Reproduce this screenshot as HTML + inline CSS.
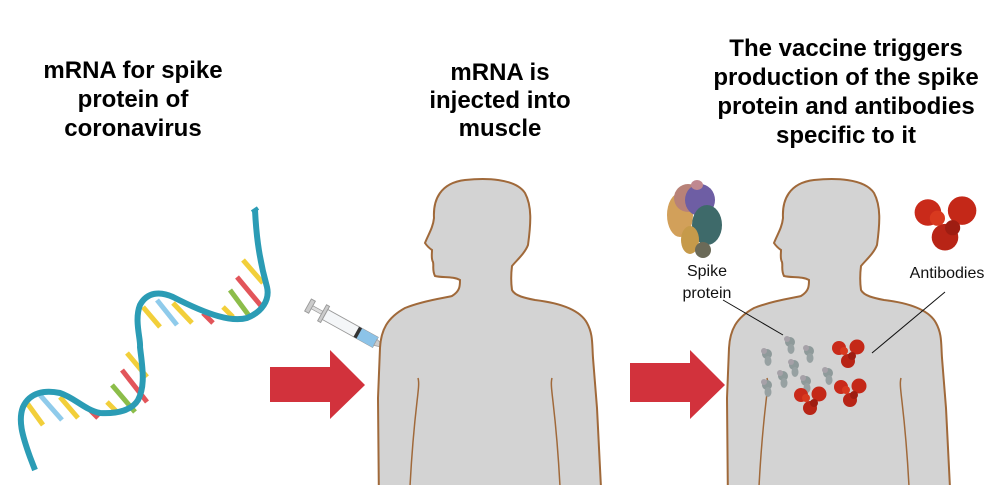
<!DOCTYPE html>
<html><head><meta charset="utf-8"><style>
html,body{margin:0;padding:0;background:#fff;}
svg{display:block}
.h{font-family:"Liberation Sans",Arial,sans-serif;font-weight:bold;font-size:24px;fill:#000;text-anchor:middle}
.l{font-family:"Liberation Sans",Arial,sans-serif;font-size:16px;fill:#111;text-anchor:middle}
</style></head><body>
<svg width="1000" height="485" viewBox="0 0 1000 485" xmlns="http://www.w3.org/2000/svg">
<defs>
<g id="body">
<path d="M394,530 L393,420 L395,370 C396,352 402,340 420,330 C440,322 460,320 467,318 C475,313 475,308 475,302 C468,298 458,300 450,298 C447,292 449,288 448,284 C446,281 447,276 447,272 C444,270 442,268 440,265 C443,257 448,250 449,240 C448,222 455,205 480,202 C500,200 530,200 540,215 C547,228 546,245 543,267 C540,275 532,282 527,288 C526,296 526,305 527,312 C530,318 540,320 550,322 C575,325 595,332 602,345 C608,356 607,365 608,380 L612,430 L617,530" fill="#d3d3d3" stroke="#a0693a" stroke-width="2"/>
<path d="M433,400 C436,410 428,430 424,530" fill="none" stroke="#a0693a" stroke-width="1.5"/>
<path d="M567,400 C564,410 572,430 576,530" fill="none" stroke="#a0693a" stroke-width="1.5"/>
</g>
<g id="ab">
<circle cx="-9" cy="-5" r="7" fill="#c92a1a"/>
<circle cx="9" cy="-6" r="7.5" fill="#c42818"/>
<circle cx="0" cy="8" r="7" fill="#b82416"/>
<circle cx="-4" cy="-2" r="4" fill="#d8391f"/>
<circle cx="4" cy="3" r="4" fill="#9e1d12"/>
</g>
<g id="sp">
<ellipse cx="0" cy="-3" rx="5" ry="5" fill="#8e9a9a"/>
<ellipse cx="1" cy="4" rx="3.5" ry="5" fill="#97a1a2"/>
<ellipse cx="-3" cy="-6" rx="3" ry="3" fill="#a6a1a8"/>
</g>
</defs>

<text class="h" x="133" y="78">mRNA for spike</text>
<text class="h" x="133" y="107">protein of</text>
<text class="h" x="133" y="136">coronavirus</text>
<text class="h" x="500" y="80">mRNA is</text>
<text class="h" x="500" y="108">injected into</text>
<text class="h" x="500" y="136">muscle</text>
<text class="h" x="846" y="56">The vaccine triggers</text>
<text class="h" x="846" y="85">production of the spike</text>
<text class="h" x="846" y="114">protein and antibodies</text>
<text class="h" x="846" y="143">specific to it</text>

<g stroke-width="5" stroke-linecap="butt">
<line x1="243" y1="260" x2="263" y2="283" stroke="#f2cf3a"/>
<line x1="237" y1="277" x2="262" y2="307" stroke="#e2555a"/>
<line x1="230" y1="290" x2="250" y2="317" stroke="#8cbd4a"/>
<line x1="223" y1="307" x2="233" y2="317" stroke="#f2cf3a"/>
<line x1="203" y1="313" x2="213" y2="323" stroke="#e2555a"/>
<line x1="173" y1="303" x2="192" y2="323" stroke="#f2cf3a"/>
<line x1="157" y1="300" x2="177" y2="325" stroke="#8fcbeb"/>
<line x1="143" y1="307" x2="160" y2="327" stroke="#f2cf3a"/>
<line x1="127" y1="353" x2="147" y2="377" stroke="#f2cf3a"/>
<line x1="122" y1="370" x2="147" y2="402" stroke="#e2555a"/>
<line x1="112" y1="385" x2="135" y2="412" stroke="#8cbd4a"/>
<line x1="107" y1="402" x2="117" y2="412" stroke="#f2cf3a"/>
<line x1="90" y1="410" x2="98" y2="418" stroke="#e2555a"/>
<line x1="60" y1="397" x2="78" y2="418" stroke="#f2cf3a"/>
<line x1="40" y1="395" x2="62" y2="420" stroke="#8fcbeb"/>
<line x1="27" y1="403" x2="43" y2="425" stroke="#f2cf3a"/>
</g>
<path d="M255,210 C256,230 258,255 267,287 C270,300 262,312 247,318 C232,322 210,316 173,297 C160,291 147,292 140,305 C134,320 141,340 140,347 C142,365 146,385 138,400 C132,410 118,414 100,413 C85,410 75,398 60,393 C45,390 30,392 23,407 C18,420 22,435 30,457 L35,470" fill="none" stroke="#2b9cb5" stroke-width="6" stroke-linejoin="round"/>
<path d="M252,212 L258,208" stroke="#2b9cb5" stroke-width="4"/>

<g transform="translate(308,305) rotate(29) scale(1.15)">
<rect x="0" y="-6" width="4" height="12" fill="#ccc" stroke="#999" stroke-width="0.8"/>
<rect x="4" y="-1.5" width="10" height="3" fill="#ddd" stroke="#999" stroke-width="0.6"/>
<rect x="14" y="-8" width="3" height="16" fill="#ccc" stroke="#999" stroke-width="0.8"/>
<rect x="17" y="-5" width="50" height="10" fill="#f4f6f8" stroke="#999" stroke-width="0.8"/>
<rect x="50" y="-5" width="17" height="10" fill="#8cc3e8"/>
<rect x="48" y="-5" width="3" height="10" fill="#333"/>
<path d="M67,-3 L74,-1 L74,1 L67,3 Z" fill="#ccc" stroke="#999" stroke-width="0.6"/>
<line x1="74" y1="0" x2="94" y2="0" stroke="#444" stroke-width="1"/>
</g>

<path d="M270,367 L330,367 L330,350 L365,385 L330,419 L330,402 L270,402 Z" fill="#d2323c"/>
<path d="M630,363 L690,363 L690,350 L725,385 L690,419 L690,402 L630,402 Z" fill="#d2323c"/>

<use href="#body" transform="translate(-15,-22)"/>
<use href="#body" transform="translate(334,-22)"/>

<g>
<ellipse cx="680" cy="215" rx="13" ry="22" fill="#d2a05a"/>
<ellipse cx="688" cy="198" rx="14" ry="14" fill="#b88278"/>
<ellipse cx="700" cy="200" rx="15" ry="16" fill="#6e5ea4"/>
<ellipse cx="707" cy="225" rx="15" ry="20" fill="#3e6a6a"/>
<ellipse cx="690" cy="240" rx="9" ry="14" fill="#c69a4a"/>
<ellipse cx="697" cy="185" rx="6" ry="5" fill="#c08890"/>
<ellipse cx="703" cy="250" rx="8" ry="8" fill="#6b6a58"/>
</g>
<use href="#ab" transform="translate(945,222) scale(1.9)"/>

<text class="l" x="707" y="276">Spike</text>
<text class="l" x="707" y="298">protein</text>
<text class="l" x="947" y="278">Antibodies</text>
<line x1="723" y1="300" x2="783" y2="335" stroke="#111" stroke-width="1"/>
<line x1="945" y1="292" x2="872" y2="353" stroke="#111" stroke-width="1"/>

<use href="#sp" transform="translate(790,345)"/>
<use href="#sp" transform="translate(767,357)"/>
<use href="#sp" transform="translate(809,354)"/>
<use href="#sp" transform="translate(794,368)"/>
<use href="#sp" transform="translate(783,379)"/>
<use href="#sp" transform="translate(767,388)"/>
<use href="#sp" transform="translate(806,384)"/>
<use href="#sp" transform="translate(828,376)"/>
<use href="#ab" transform="translate(848,353)"/>
<use href="#ab" transform="translate(810,400)"/>
<use href="#ab" transform="translate(850,392)"/>
</svg>
</body></html>
